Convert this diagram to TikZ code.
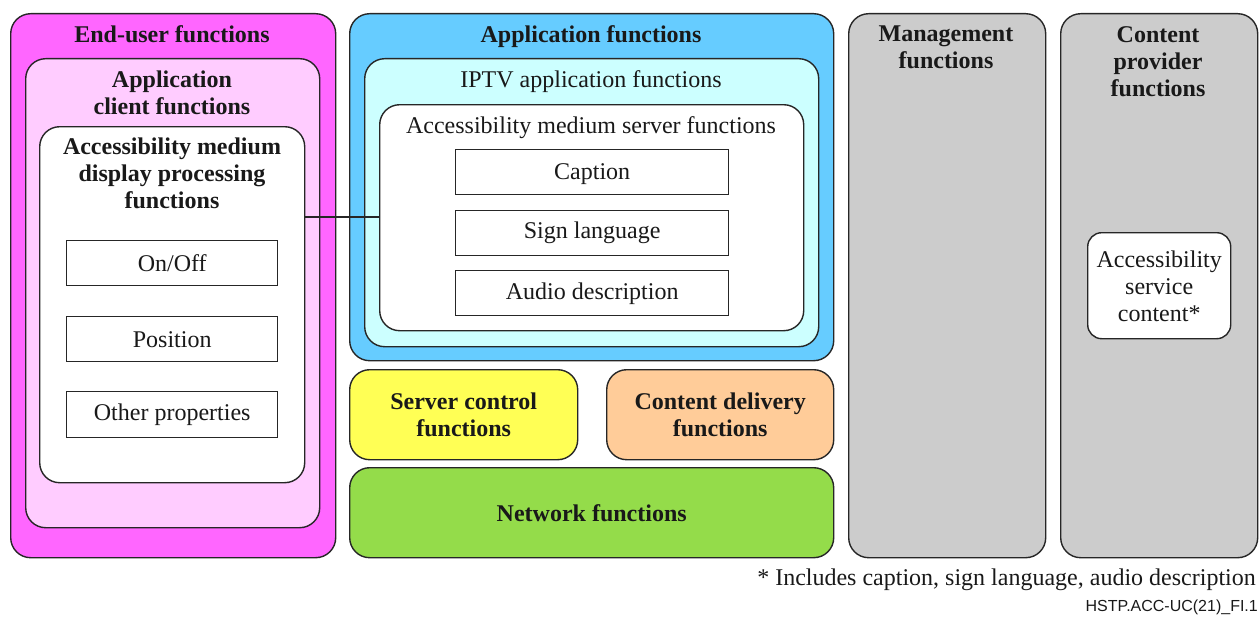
\documentclass[tikz,border=0pt]{standalone}
\usepackage{fontspec}
\setmainfont{Liberation Serif}
\setsansfont{Liberation Sans}
\begin{document}
\begin{tikzpicture}[x=1pt,y=-1pt,
  box/.style={draw=black!85, line width=1.4pt, rounded corners=20pt, anchor=north west, inner sep=0pt},
  sq/.style={draw=black!85, line width=1.4pt, anchor=north west, inner sep=0pt, fill=white},
  bt/.style={font=\fontsize{24}{27}\selectfont\bfseries, align=center, text=black!90, inner sep=0pt},
  rt/.style={font=\fontsize{24}{27}\selectfont, align=center, text=black!90, inner sep=0pt}]
\definecolor{eucol}{HTML}{FF66FF}
\definecolor{accol}{HTML}{FFCCFF}
\definecolor{afcol}{HTML}{66CCFF}
\definecolor{ipcol}{HTML}{CCFFFF}
\definecolor{sccol}{HTML}{FFFF55}
\definecolor{cdcol}{HTML}{FFCC99}
\definecolor{nfcol}{HTML}{94DC4A}
\definecolor{grcol}{HTML}{CCCCCC}
\useasboundingbox (0,0) rectangle (1260,618);
% End-user
\node[box, fill=eucol, minimum width=325pt, minimum height=544pt] (eu) at (10,13) {};
\node[box, fill=accol, minimum width=294pt, minimum height=469pt] (ac) at (25,58) {};
\node[box, fill=white, minimum width=265pt, minimum height=356pt] (amd) at (39,126) {};
\node[sq, minimum width=211pt, minimum height=45pt] (onoff) at (66,240) {};
\node[sq, minimum width=211pt, minimum height=45pt] (pos) at (66,316) {};
\node[sq, minimum width=211pt, minimum height=46pt] (oth) at (66,391) {};
\node[bt] (eut) at (172,34) {End-user functions};
\node[bt] (act) at (172,93) {Application\\client functions};
\node[bt] (amdt) at (172,173) {Accessibility medium\\display processing\\functions};
\node[rt] at (onoff.center) {On/Off};
\node[rt] at (pos.center) {Position};
\node[rt] at (oth.center) {Other properties};
% Application functions
\node[box, fill=afcol, minimum width=484pt, minimum height=347pt] (af) at (349,13) {};
\node[box, fill=ipcol, minimum width=454pt, minimum height=288pt] (ip) at (364,58) {};
\node[box, fill=white, minimum width=424pt, minimum height=226pt] (ams) at (379,104) {};
\node[sq, minimum width=273pt, minimum height=45pt] (cap) at (455,149) {};
\node[sq, minimum width=273pt, minimum height=45pt] (sl) at (455,210) {};
\node[sq, minimum width=273pt, minimum height=45pt] (ad) at (455,270) {};
\node[bt] (aft) at (591,37) {Application functions};
\node[rt] (ipt) at (591,82) {IPTV application functions};
\node[rt] (amst) at (591,128) {Accessibility medium server functions};
\node[rt] at ([yshift=-2pt]cap.center) {Caption};
\node[rt] at (sl.center) {Sign language};
\node[rt] at ([yshift=-1pt]ad.center) {Audio description};
% lower boxes
\node[box, fill=sccol, minimum width=228pt, minimum height=90pt] (sc) at (349,369) {};
\node[box, fill=cdcol, minimum width=227pt, minimum height=90pt] (cd) at (606,369) {};
\node[box, fill=nfcol, minimum width=484pt, minimum height=90pt] (nf) at (349,467) {};
\node[bt] at (sc.center) {Server control\\functions};
\node[bt] at (cd.center) {Content delivery\\functions};
\node[bt] at (nf.center) {Network functions};
% right columns
\node[box, fill=grcol, minimum width=197pt, minimum height=544pt] (mg) at (848,13) {};
\node[box, fill=grcol, minimum width=197pt, minimum height=544pt] (cp) at (1060,13) {};
\node[bt] (mgt) at (946,47.5) {Management\\functions};
\node[bt] (cpt) at (1158,61.5) {Content\\provider\\functions};
\node[box, fill=white, rounded corners=14pt, minimum width=143pt, minimum height=106pt] (asc) at (1087,232) {};
\node[rt] at ([yshift=-1pt]asc.center) {Accessibility\\service\\content*};
% connector
\coordinate (lv) at (0,217);
\draw[line width=1.4pt, black!85] (amd.east |- lv) -- (ams.west |- lv);
% footnotes
\node[rt, anchor=east] (fn) at (1256,580) {* Includes caption, sign language, audio description};
\node[font=\sffamily\fontsize{16}{18}\selectfont, anchor=east, inner sep=0pt, text=black!90] (id) at (1258,607) {HSTP.ACC-UC(21)\_FI.1};
\end{tikzpicture}
\end{document}
